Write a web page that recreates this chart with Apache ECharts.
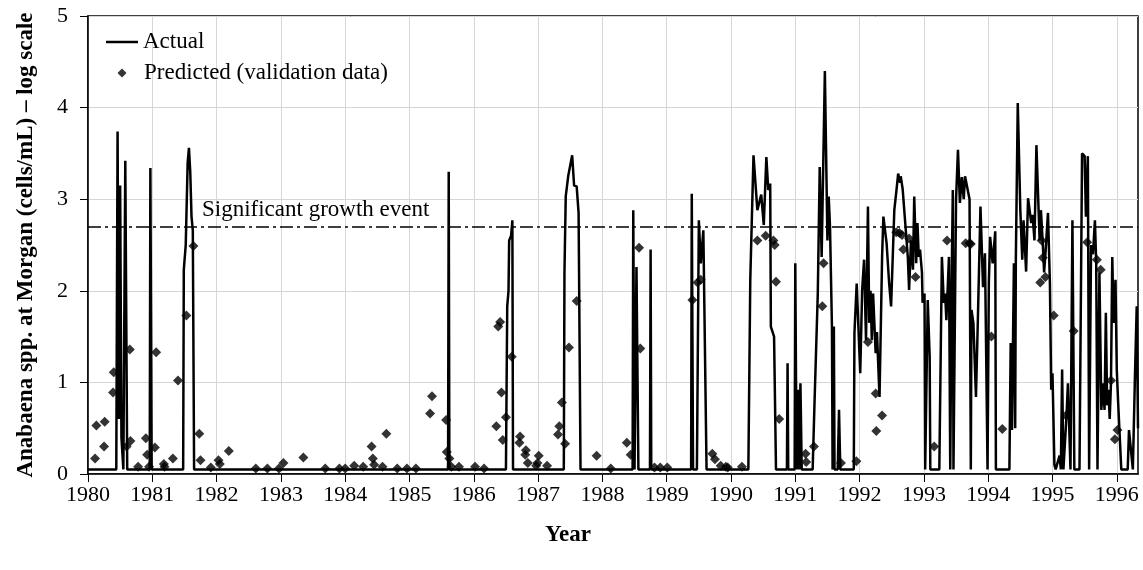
<!DOCTYPE html>
<html>
<head>
<meta charset="utf-8">
<title>Anabaena spp. at Morgan</title>
<script src="https://cdn.jsdelivr.net/npm/echarts@6/dist/echarts.min.js"></script>
<style>
  html, body { margin: 0; padding: 0; background: #fff; }
  #chart { width: 1143px; height: 570px; }
</style>
</head>
<body>
<div id="chart"></div>
<script>
// Year ticks shown on the horizontal axis
const yearTicks = [1980, 1981, 1982, 1983, 1984, 1985, 1986, 1987, 1988,
                   1989, 1990, 1991, 1992, 1993, 1994, 1995, 1996];

// Log10 cell count threshold marking a significant growth event
const growthThreshold = 2.7;

// Measured Anabaena counts, [decimal year, log10 cells/mL]
const actualPoints = [
  [1980.00, 0.05], [1980.44, 0.05], [1980.46, 3.74], [1980.48, 0.6], [1980.50, 3.15],
  [1980.52, 0.4], [1980.55, 0.05], [1980.58, 3.42], [1980.61, 0.05],
  [1980.96, 0.05], [1980.97, 3.34], [1980.99, 0.05],
  [1981.48, 0.05], [1981.49, 2.23], [1981.52, 2.5], [1981.55, 3.4], [1981.57, 3.56],
  [1981.59, 3.3], [1981.61, 2.81], [1981.63, 2.66], [1981.65, 0.05],
  [1985.60, 0.05], [1985.61, 3.30], [1985.62, 0.05],
  [1986.50, 0.05], [1986.52, 1.83], [1986.54, 2.0], [1986.55, 2.55], [1986.58, 2.6],
  [1986.60, 2.77], [1986.61, 0.05],
  [1987.40, 0.05], [1987.41, 2.19], [1987.43, 3.03], [1987.47, 3.26], [1987.50, 3.28],
  [1987.53, 3.48], [1987.56, 3.15], [1987.60, 3.14], [1987.63, 2.85], [1987.66, 0.05],
  [1988.47, 0.05], [1988.48, 2.88], [1988.50, 0.05], [1988.53, 2.26], [1988.56, 0.05],
  [1988.74, 0.05], [1988.75, 2.45], [1988.76, 0.05],
  [1989.38, 0.05], [1989.39, 3.06], [1989.41, 0.05], [1989.47, 0.05], [1989.50, 2.77],
  [1989.53, 2.3], [1989.57, 2.66], [1989.62, 0.05],
  [1990.27, 0.05], [1990.30, 2.12], [1990.35, 3.48], [1990.41, 2.88], [1990.47, 3.05],
  [1990.51, 2.72], [1990.55, 3.46], [1990.58, 3.10], [1990.61, 3.17], [1990.62, 1.61],
  [1990.67, 1.50], [1990.70, 0.05],
  [1990.87, 0.05], [1990.88, 1.21], [1990.89, 0.05], [1990.99, 0.05], [1991.00, 2.30],
  [1991.02, 0.05], [1991.05, 0.92], [1991.06, 0.05], [1991.08, 0.99], [1991.10, 0.05],
  [1991.27, 0.05], [1991.30, 0.8], [1991.35, 1.97], [1991.38, 3.35], [1991.41, 2.37],
  [1991.46, 4.40], [1991.50, 2.55], [1991.52, 3.03], [1991.54, 2.70], [1991.57, 1.61],
  [1991.58, 0.05], [1991.60, 1.61], [1991.61, 0.05], [1991.66, 0.05], [1991.68, 0.70],
  [1991.70, 0.05],
  [1991.91, 0.05], [1991.92, 1.54], [1991.955, 2.08], [1992.01, 1.10], [1992.04, 2.01],
  [1992.07, 2.34], [1992.10, 1.46], [1992.13, 2.92], [1992.15, 1.65], [1992.17, 2.00],
  [1992.19, 1.46], [1992.21, 1.97], [1992.25, 1.32], [1992.27, 1.55], [1992.31, 0.84],
  [1992.35, 2.37], [1992.37, 2.81], [1992.39, 2.81], [1992.42, 2.52], [1992.46, 2.08],
  [1992.49, 1.83], [1992.54, 2.88], [1992.58, 3.14], [1992.60, 3.28], [1992.63, 3.18],
  [1992.64, 3.25], [1992.67, 3.11], [1992.71, 2.74], [1992.75, 2.37], [1992.77, 2.01],
  [1992.80, 2.55], [1992.83, 2.23], [1992.85, 3.03], [1992.88, 2.30], [1992.90, 2.74],
  [1992.92, 2.37], [1992.94, 2.45], [1992.97, 2.2], [1992.98, 1.87], [1993.01, 1.97],
  [1993.02, 0.05], [1993.06, 1.90], [1993.09, 1.28], [1993.10, 0.05],
  [1993.24, 0.05], [1993.28, 2.37], [1993.31, 1.87], [1993.33, 1.97], [1993.35, 1.68],
  [1993.39, 2.37], [1993.41, 0.05], [1993.43, 2.0], [1993.45, 3.10], [1993.46, 0.05],
  [1993.50, 2.99], [1993.53, 3.54], [1993.56, 2.96], [1993.59, 3.24], [1993.62, 3.00],
  [1993.64, 3.25], [1993.71, 3.0], [1993.73, 0.05], [1993.74, 1.79], [1993.77, 1.65],
  [1993.81, 0.84], [1993.84, 1.7], [1993.88, 2.92], [1993.92, 2.04], [1993.95, 2.41],
  [1993.98, 2.4], [1993.99, 0.05], [1994.01, 2.08], [1994.03, 2.59], [1994.07, 2.3],
  [1994.11, 2.65], [1994.12, 0.05],
  [1994.33, 0.05], [1994.35, 1.43], [1994.37, 0.48], [1994.40, 2.30], [1994.42, 0.5],
  [1994.43, 2.33], [1994.46, 4.05], [1994.50, 2.88], [1994.53, 2.34], [1994.55, 2.77],
  [1994.59, 2.21], [1994.62, 3.01], [1994.65, 3.01], [1994.67, 2.74], [1994.69, 2.83],
  [1994.72, 2.55], [1994.75, 3.59], [1994.78, 3.60], [1994.80, 2.55], [1994.82, 2.88],
  [1994.85, 2.5], [1994.87, 2.2], [1994.89, 2.4], [1994.93, 2.85], [1994.96, 2.08],
  [1994.98, 0.92], [1995.00, 1.1], [1995.03, 0.1], [1995.05, 0.05], [1995.11, 0.2],
  [1995.13, 0.05], [1995.15, 1.14], [1995.17, 0.05], [1995.22, 0.66], [1995.24, 0.99],
  [1995.26, 0.99], [1995.28, 0.05], [1995.31, 2.77], [1995.34, 0.05],
  [1995.42, 0.05], [1995.46, 3.50], [1995.50, 3.47], [1995.52, 2.81], [1995.55, 3.47],
  [1995.57, 0.05], [1995.60, 2.5], [1995.63, 2.4], [1995.66, 2.77], [1995.68, 2.30],
  [1995.70, 0.05], [1995.73, 2.2], [1995.76, 0.70], [1995.78, 0.99], [1995.81, 0.70],
  [1995.83, 1.76], [1995.85, 0.75], [1995.87, 0.92], [1995.89, 0.6], [1995.91, 1.0],
  [1995.93, 2.37], [1995.95, 1.65], [1995.98, 2.12], [1996.00, 1.14], [1996.02, 0.8],
  [1996.07, 0.05], [1996.17, 0.05], [1996.19, 0.48], [1996.22, 0.48], [1996.25, 0.05],
  [1996.28, 0.99], [1996.31, 1.83], [1996.33, 0.5]
];

// Model predictions on the validation data, [decimal year, log10 cells/mL]
const predictedPoints = [
  [1980.11, 0.17], [1980.13, 0.53], [1980.25, 0.30], [1980.26, 0.57], [1980.39, 0.89],
  [1980.40, 1.11], [1980.60, 0.30], [1980.66, 0.36], [1980.65, 1.36], [1980.78, 0.08],
  [1980.90, 0.39], [1980.92, 0.21], [1980.95, 0.08], [1981.04, 0.29], [1981.06, 1.33],
  [1981.18, 0.11], [1981.19, 0.08], [1981.32, 0.17], [1981.40, 1.02], [1981.53, 1.73],
  [1981.64, 2.49], [1981.73, 0.44], [1981.75, 0.15], [1981.91, 0.07], [1982.03, 0.15],
  [1982.05, 0.11], [1982.19, 0.25], [1982.61, 0.06], [1982.79, 0.06], [1982.97, 0.06],
  [1983.04, 0.12], [1983.35, 0.18], [1983.69, 0.06], [1983.91, 0.06], [1984.00, 0.06],
  [1984.14, 0.09], [1984.28, 0.08], [1984.41, 0.30], [1984.43, 0.17], [1984.45, 0.10],
  [1984.58, 0.08], [1984.64, 0.44], [1984.81, 0.06], [1984.96, 0.06], [1985.10, 0.06],
  [1985.32, 0.66], [1985.35, 0.85], [1985.57, 0.59], [1985.58, 0.24], [1985.62, 0.17],
  [1985.65, 0.08], [1985.77, 0.08], [1986.02, 0.08], [1986.16, 0.06], [1986.35, 0.52],
  [1986.38, 1.61], [1986.41, 1.66], [1986.43, 0.89], [1986.45, 0.37], [1986.50, 0.62],
  [1986.59, 1.28], [1986.72, 0.41], [1986.71, 0.34], [1986.81, 0.26], [1986.80, 0.21],
  [1986.84, 0.12], [1986.97, 0.09], [1987.01, 0.20], [1986.99, 0.12], [1987.14, 0.09],
  [1987.31, 0.43], [1987.33, 0.52], [1987.37, 0.78], [1987.42, 0.33], [1987.48, 1.38],
  [1987.60, 1.89], [1987.91, 0.20], [1988.13, 0.06], [1988.38, 0.34], [1988.44, 0.21],
  [1988.57, 2.47], [1988.59, 1.37], [1988.81, 0.07], [1988.90, 0.07], [1989.01, 0.07],
  [1989.40, 1.90], [1989.48, 2.09], [1989.53, 2.12], [1989.71, 0.22], [1989.75, 0.16],
  [1989.84, 0.09], [1989.92, 0.08], [1989.95, 0.07], [1990.17, 0.08], [1990.41, 2.55],
  [1990.54, 2.60], [1990.66, 2.55], [1990.68, 2.50], [1990.70, 2.10], [1990.75, 0.60],
  [1991.16, 0.22], [1991.17, 0.13], [1991.29, 0.30], [1991.42, 1.83], [1991.44, 2.30],
  [1991.71, 0.12], [1991.95, 0.14], [1992.13, 1.44], [1992.25, 0.88], [1992.26, 0.47],
  [1992.35, 0.64], [1992.57, 2.64], [1992.62, 2.63], [1992.66, 2.61], [1992.68, 2.45],
  [1992.77, 2.57], [1992.87, 2.15], [1993.16, 0.30], [1993.36, 2.55], [1993.65, 2.52],
  [1993.71, 2.52], [1993.73, 2.51], [1994.05, 1.50], [1994.22, 0.49], [1994.81, 2.09],
  [1994.83, 2.55], [1994.85, 2.36], [1994.89, 2.15], [1995.02, 1.73], [1995.21, 0.64],
  [1995.33, 1.56], [1995.54, 2.53], [1995.69, 2.34], [1995.75, 2.23], [1995.91, 1.02],
  [1995.97, 0.38], [1996.01, 0.48]
];

const FONT = 'Liberation Serif';
const chart = echarts.init(document.getElementById('chart'), null, { renderer: 'canvas' });

chart.setOption({
  animation: false,
  backgroundColor: '#fff',
  textStyle: { fontFamily: FONT, color: '#000' },
  grid: {
    left: 88, right: 5, top: 16, bottom: 96,
    show: true, borderColor: '#000', borderWidth: 1.5, backgroundColor: 'transparent'
  },
  legend: [
    {
      data: [{ name: 'Actual', icon: 'rect' }],
      left: 101, top: 25.5,
      itemWidth: 32, itemHeight: 2.5,
      itemStyle: { color: '#000' },
      textStyle: { fontFamily: FONT, fontSize: 23, color: '#000' }
    },
    {
      data: [{ name: 'Predicted (validation data)', icon: 'diamond' }],
      left: 112.5, top: 56.5,
      itemWidth: 9, itemHeight: 9,
      textStyle: { fontFamily: FONT, fontSize: 23, color: '#000', padding: [0, 0, 0, 12.5] }
    }
  ],
  xAxis: {
    type: 'value',
    min: 1980, max: 1996.33, interval: 1,
    name: 'Year', nameLocation: 'middle', nameGap: 50,
    nameTextStyle: { fontFamily: FONT, fontWeight: 'bold', fontSize: 23, color: '#000', padding: [0, 90, 0, 0] },
    axisLine: { show: true, onZero: false, lineStyle: { color: '#000', width: 1.5 } },
    axisTick: { show: true, length: 8, customValues: yearTicks, lineStyle: { color: '#000', width: 1 } },
    axisLabel: {
      customValues: yearTicks, margin: 10,
      fontFamily: FONT, fontSize: 22, color: '#000',
      formatter: (v) => String(v)
    },
    splitLine: { show: true, lineStyle: { color: '#d6d6d6', width: 1 } }
  },
  yAxis: {
    type: 'value',
    min: 0, max: 5, interval: 1,
    name: 'Anabaena spp. at Morgan (cells/mL) \u2013 log scale',
    nameLocation: 'middle', nameGap: 50,
    nameTextStyle: { fontFamily: FONT, fontWeight: 'bold', fontSize: 23, color: '#000' },
    axisLine: { show: true, lineStyle: { color: '#000', width: 1.5 } },
    axisTick: { show: true, length: 8, lineStyle: { color: '#000', width: 1 } },
    axisLabel: { margin: 20, fontFamily: FONT, fontSize: 22, color: '#000' },
    splitLine: { show: true, lineStyle: { color: '#d6d6d6', width: 1 } }
  },
  series: [
    {
      name: 'Actual',
      type: 'line',
      data: actualPoints,
      symbol: 'none',
      lineStyle: { color: '#000', width: 2.5 },
      itemStyle: { color: '#000' },
      z: 3
    },
    {
      name: 'Predicted (validation data)',
      type: 'scatter',
      data: predictedPoints,
      symbol: 'diamond',
      symbolSize: 10,
      itemStyle: { color: '#000' },
      z: 4,
      markLine: {
        silent: true,
        symbol: 'none',
        data: [{ yAxis: growthThreshold }],
        lineStyle: { color: '#000', width: 1.5, type: [13, 4, 3, 4] },
        label: {
          show: true,
          position: 'insideStartTop',
          distance: [114, 5],
          formatter: 'Significant growth event',
          fontFamily: FONT, fontSize: 23, color: '#000'
        }
      }
    }
  ]
});
</script>
</body>
</html>
